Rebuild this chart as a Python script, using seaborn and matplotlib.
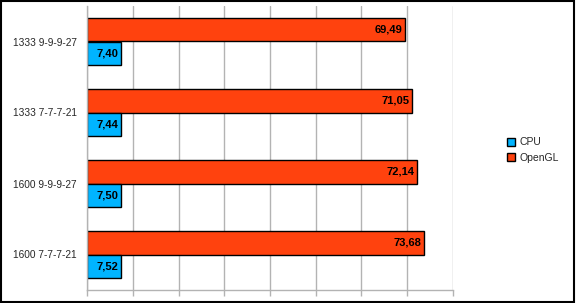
import matplotlib
matplotlib.use("Agg")
import matplotlib.pyplot as plt
import seaborn as sns
import pandas as pd
from matplotlib.patches import Rectangle, Patch

categories = ["1333 9-9-9-27", "1333 7-7-7-21", "1600 9-9-9-27", "1600 7-7-7-21"]
series_names = ["OpenGL", "CPU"]
opengl_values = [69.49, 71.05, 72.14, 73.68]
cpu_values = [7.40, 7.44, 7.50, 7.52]

colors = {"OpenGL": "#FF420E", "CPU": "#00B4FF"}

rows = []
for c, o, p in zip(categories, opengl_values, cpu_values):
    rows.append({"cat": c, "series": "OpenGL", "value": o})
    rows.append({"cat": c, "series": "CPU", "value": p})
df = pd.DataFrame(rows)

sns.set_theme(style="white")
plt.rcParams["font.family"] = ["Liberation Sans", "DejaVu Sans"]

fig = plt.figure(figsize=(5.76, 3.03), dpi=100)
ax = fig.add_axes([87/576, 1-290/303, (453-87)/576, (290-6)/303])

sns.barplot(data=df, y="cat", x="value", hue="series", order=categories,
            hue_order=series_names, palette=colors, width=0.66, orient="h",
            edgecolor="black", linewidth=1.0, saturation=1, ax=ax, legend=False)

ax.set_xlim(0, 80)
ax.set_ylim(3.5, -0.5)
ax.set_xticks(range(0, 81, 10))
ax.set_xticklabels([])
ax.grid(axis="x", color="#b3b3b3", linewidth=1.0)
ax.set_axisbelow(True)
ax.set_yticks(range(len(categories)))
ax.set_yticklabels(categories, fontsize=7.3)
ax.set_yticks([i - 0.5 for i in range(len(categories) + 1)], minor=True)
ax.tick_params(axis="y", which="major", length=0, pad=7.5)
ax.tick_params(axis="y", which="minor", length=5, color="#b3b3b3", width=1, direction="out")
ax.tick_params(axis="x", which="major", length=4, color="#b3b3b3", width=1, direction="out", bottom=True)
ax.set_xlabel("")
ax.set_ylabel("")
for s in ["top", "right"]:
    ax.spines[s].set_visible(False)
for s in ["left", "bottom"]:
    ax.spines[s].set_color("#b3b3b3")
    ax.spines[s].set_linewidth(1.0)

for cont, vals in zip(ax.containers, [opengl_values, cpu_values]):
    for p, v in zip(cont.patches, vals):
        ax.annotate(f"{v:.2f}".replace(".", ","),
                    xy=(p.get_x() + p.get_width(), p.get_y() + p.get_height() / 2),
                    xytext=(-2, 0), textcoords="offset points",
                    ha="right", va="center", fontsize=8, fontweight="bold", color="black")

handles = [Patch(facecolor=colors["CPU"], edgecolor="black", label="CPU"),
           Patch(facecolor=colors["OpenGL"], edgecolor="black", label="OpenGL")]
fig.legend(handles=handles, loc="center left", bbox_to_anchor=(507/576, 1-150/303),
           frameon=False, fontsize=7.5, handlelength=0.8, handleheight=0.8,
           handletextpad=0.4, labelspacing=0.5, borderaxespad=0, borderpad=0)

fig.add_artist(Rectangle((0.001, 0.003), 0.996, 0.994, transform=fig.transFigure,
                         fill=False, edgecolor="black", linewidth=1.5))

fig.savefig("out.png", dpi=100)
